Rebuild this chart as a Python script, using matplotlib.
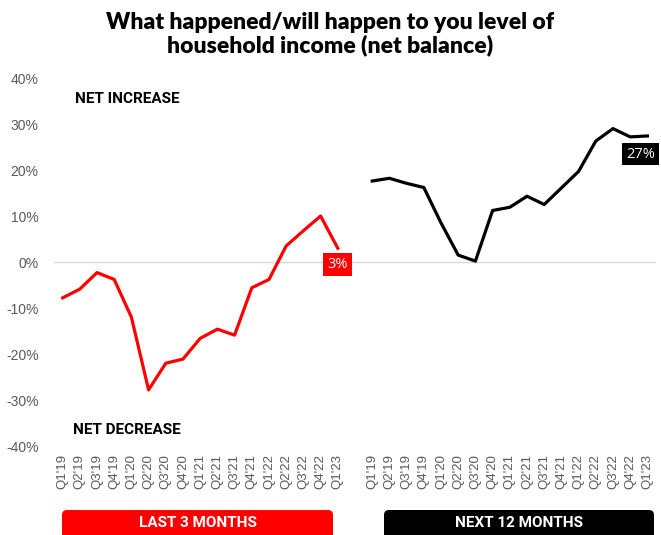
import matplotlib.pyplot as plt
from matplotlib.patches import FancyBboxPatch
import numpy as np

# Quarterly net balance, % of respondents
quarters = ["Q1'19", "Q2'19", "Q3'19", "Q4'19", "Q1'20", "Q2'20", "Q3'20", "Q4'20",
            "Q1'21", "Q2'21", "Q3'21", "Q4'21", "Q1'22", "Q2'22", "Q3'22", "Q4'22", "Q1'23"]
last_3_months = [-7.8, -5.9, -2.3, -3.8, -12.0, -27.8, -22.0, -21.1,
                 -16.6, -14.6, -15.9, -5.6, -3.8, 3.5, 6.8, 10.0, 3.0]
next_12_months = [17.6, 18.2, 17.1, 16.2, 8.5, 1.5, 0.2, 11.2,
                  11.9, 14.3, 12.5, 16.1, 19.7, 26.3, 29.0, 27.2, 27.4]
y_ticks = [-40, -30, -20, -10, 0, 10, 20, 30, 40]

RED = "#ff0000"
GREY = "#595959"

fig = plt.figure(figsize=(6.61, 5.35), dpi=100)
ax = fig.add_axes([54 / 661, 1 - 446 / 535, 602 / 661, 368 / 535])

n = len(quarters)
x_red = np.arange(n)
x_black = np.arange(n) + n + 1

ax.axhline(0, color="#d9d9d9", lw=1, zorder=1)
ax.plot(x_red, last_3_months, color=RED, lw=2.3, zorder=3)
ax.plot(x_black, next_12_months, color="black", lw=2.3, zorder=3)

ax.set_xlim(-0.5, 2 * n + 0.5)
ax.set_ylim(-40, 40)
ax.set_yticks(y_ticks)
ax.set_yticklabels([f"{v}%" for v in y_ticks], color=GREY, fontsize=10,
                   family="Liberation Sans")
ax.set_xticks(list(x_red) + list(x_black))
ax.set_xticklabels(quarters + quarters, rotation=90, color=GREY, fontsize=9.5,
                   family="Liberation Sans")
ax.tick_params(length=0, pad=6)
ax.tick_params(axis="y", pad=11)
for s in ax.spines.values():
    s.set_visible(False)

# end-of-series value labels
ax.text(x_red[-1], last_3_months[-1] - 1.9, f"{last_3_months[-1]:.0f}%",
        color="white", fontsize=10.5, ha="center", va="top", family="Open Sans",
        bbox=dict(boxstyle="square,pad=0.3", fc=RED, ec="none"), zorder=4)
ax.text(x_black[-1] - 0.4, next_12_months[-1] - 2.3, f"{next_12_months[-1]:.0f}%",
        color="white", fontsize=10.5, ha="center", va="top", family="Open Sans",
        bbox=dict(boxstyle="square,pad=0.25", fc="black", ec="none"), zorder=4)

ax.text(0.7, 35.5, "NET INCREASE", fontsize=11, fontweight="bold", family="Roboto",
        va="center", ha="left")
ax.text(0.6, -36.5, "NET DECREASE", fontsize=11, fontweight="bold", family="Roboto",
        va="center", ha="left")

fig.text(0.5, 1 - 34 / 535,
         "What happened/will happen to you level of\nhousehold income (net balance)",
         ha="center", va="center", fontsize=16.5, fontweight="heavy", family="Lato",
         linespacing=1.1)

# period banners under the axis
for x0, x1, col, label in [(62, 333, RED, "LAST 3 MONTHS"),
                           (384, 654, "black", "NEXT 12 MONTHS")]:
    box = FancyBboxPatch((x0 / 100, -0.1), (x1 - x0) / 100, 0.35,
                         boxstyle="round,pad=0,rounding_size=0.05",
                         fc=col, ec="none", transform=fig.dpi_scale_trans)
    fig.add_artist(box)
    fig.text((x0 + x1) / 2 / 661, 12 / 535, label, color="white", fontsize=11,
             fontweight="bold", family="Roboto", ha="center", va="center")

fig.savefig("out.png", dpi=100)
